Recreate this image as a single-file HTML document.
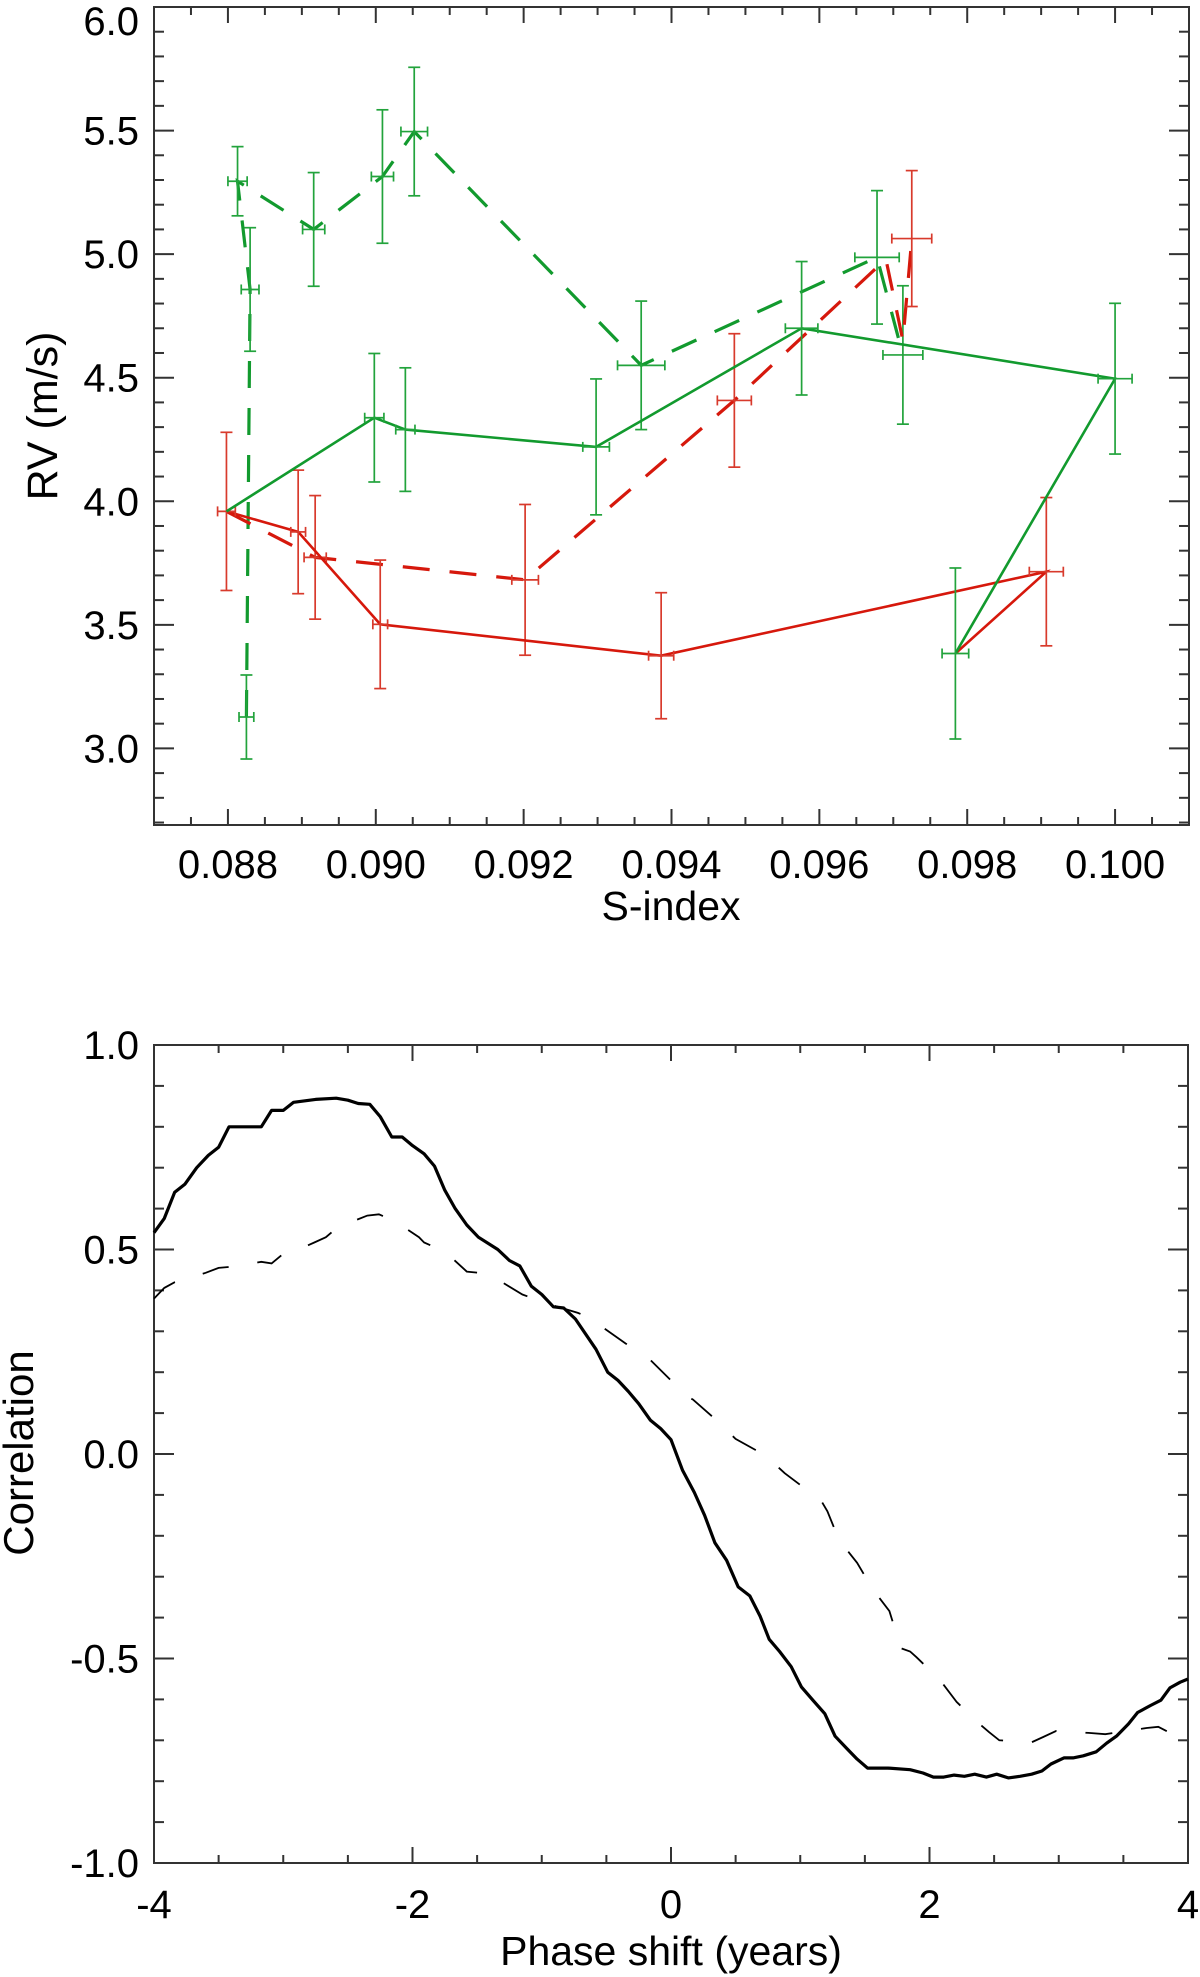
<!DOCTYPE html>
<html><head><meta charset="utf-8">
<style>
html,body{margin:0;padding:0;background:#fff;}
svg{display:block;font-family:"Liberation Sans",Arial,sans-serif;}
</style></head>
<body>
<svg id="fig" width="1200" height="1977" viewBox="0 0 1200 1977" xmlns="http://www.w3.org/2000/svg">
<g id="topchart"></g>
<g id="botchart"></g>
</svg>
<script>
// ---------- Top chart data ----------
const gsS   = [0.08798,0.08998,0.0904,0.09298,0.09576,0.1000,0.09784];
const gsRV  = [3.959,4.338,4.29,4.22,4.70,4.496,3.384];
const gsErr = [0,0.26,0.25,0.275,0.27,0.305,0.346];
const gsXErr= [0,0.00013,0.00013,0.00018,0.00022,0.00023,0.00018];

const gdS   = [0.08825,0.0883,0.08813,0.08916,0.09009,0.09052,0.09359,0.09678,0.09713];
const gdRV  = [3.127,4.857,5.295,5.10,5.314,5.496,4.55,4.987,4.592];
const gdErr = [0.17,0.25,0.14,0.23,0.27,0.26,0.26,0.27,0.28];
const gdXErr= [0.0001,0.00012,0.00013,0.00015,0.00015,0.00018,0.00032,0.0003,0.00027];

const rsS   = [0.08798,0.08895,0.09006,0.09386,0.09907,0.09784];
const rsRV  = [3.959,3.876,3.502,3.375,3.715,3.384];
const rsErr = [0.32,0.25,0.26,0.255,0.30,0];
const rsXErr= [0.00012,0.0001,0.0001,0.00017,0.00023,0];

const rdS   = [0.08798,0.08918,0.09202,0.09485,0.0969,0.09713,0.09725];
const rdRV  = [3.959,3.773,3.682,4.408,4.98,4.65,5.063];
const rdErr = [0,0.25,0.305,0.27,0,0,0.275];
const rdXErr= [0,0.00015,0.00018,0.00023,0,0,0.00027];

const topXTicks = [0.088,0.090,0.092,0.094,0.096,0.098,0.100];
const topXLabels = ["0.088","0.090","0.092","0.094","0.096","0.098","0.100"];
const topYTicks = [3.0,3.5,4.0,4.5,5.0,5.5,6.0];
const topYLabels = ["3.0","3.5","4.0","4.5","5.0","5.5","6.0"];

// ---------- Bottom chart data ----------
const solidPhase = [-4.0,-3.92,-3.84,-3.76,-3.67,-3.58,-3.5,-3.42,-3.17,-3.09,-3.0,-2.92,-2.75,-2.59,-2.5,-2.42,-2.33,-2.25,-2.16,-2.08,-2.0,-1.91,-1.83,-1.75,-1.67,-1.58,-1.49,-1.34,-1.25,-1.17,-1.08,-1.0,-0.91,-0.83,-0.74,-0.58,-0.49,-0.41,-0.33,-0.25,-0.16,-0.08,0.0,0.09,0.18,0.26,0.34,0.43,0.52,0.61,0.69,0.76,0.84,0.93,1.01,1.1,1.19,1.27,1.36,1.44,1.52,1.68,1.85,1.95,2.03,2.11,2.19,2.27,2.35,2.44,2.52,2.61,2.7,2.79,2.87,2.94,3.04,3.11,3.19,3.29,3.37,3.45,3.54,3.61,3.71,3.79,3.86,3.94,4.0];
const solidCorr  = [0.541,0.576,0.64,0.66,0.70,0.73,0.75,0.80,0.80,0.84,0.84,0.86,0.867,0.87,0.865,0.857,0.855,0.825,0.775,0.775,0.754,0.734,0.704,0.645,0.60,0.56,0.53,0.50,0.473,0.46,0.41,0.39,0.36,0.357,0.33,0.256,0.20,0.18,0.153,0.123,0.083,0.062,0.035,-0.04,-0.094,-0.15,-0.217,-0.26,-0.325,-0.347,-0.397,-0.453,-0.483,-0.52,-0.57,-0.603,-0.635,-0.69,-0.72,-0.746,-0.768,-0.768,-0.772,-0.78,-0.79,-0.79,-0.785,-0.788,-0.783,-0.79,-0.783,-0.792,-0.788,-0.783,-0.775,-0.758,-0.743,-0.743,-0.738,-0.728,-0.707,-0.689,-0.66,-0.632,-0.615,-0.602,-0.572,-0.558,-0.55];

const dashPhase = [-4.0,-3.92,-3.84,-3.6,-3.5,-3.4,-3.17,-3.09,-3.01,-2.97,-2.76,-2.67,-2.58,-2.35,-2.26,-2.14,-1.95,-1.91,-1.75,-1.58,-1.49,-1.36,-1.15,-0.95,-0.72,-0.58,-0.53,-0.35,-0.16,0.0,0.1,0.17,0.34,0.5,0.71,0.76,0.88,1.06,1.16,1.21,1.3,1.44,1.56,1.69,1.76,1.78,1.85,1.9,2.08,2.21,2.38,2.46,2.54,2.79,2.88,2.98,3.23,3.36,3.47,3.68,3.77,3.88,4.0];
const dashCorr  = [0.38,0.406,0.42,0.443,0.455,0.458,0.47,0.466,0.487,0.487,0.517,0.53,0.554,0.583,0.586,0.57,0.53,0.517,0.495,0.446,0.443,0.43,0.39,0.367,0.345,0.327,0.31,0.27,0.23,0.18,0.145,0.133,0.086,0.037,0.0,-0.012,-0.047,-0.09,-0.113,-0.14,-0.21,-0.266,-0.33,-0.384,-0.456,-0.475,-0.483,-0.497,-0.552,-0.606,-0.658,-0.68,-0.70,-0.705,-0.692,-0.677,-0.682,-0.685,-0.68,-0.67,-0.667,-0.685,-0.71];

const botXTicks = [-4,-2,0,2,4];
const botXLabels = ["-4","-2","0","2","4"];
const botYTicks = [-1.0,-0.5,0.0,0.5,1.0];
const botYLabels = ["-1.0","-0.5","0.0","0.5","1.0"];

// ---------- helpers ----------
const NS = "http://www.w3.org/2000/svg";
function mk(parent, tag, attrs){
  const e = document.createElementNS(NS, tag);
  for (const k in attrs) e.setAttribute(k, attrs[k]);
  parent.appendChild(e);
  return e;
}
const GREEN = "#129a2e", GREENE = "#22a33c", RED = "#d6180c", REDE = "#d83a2c";

// ---------- Top chart ----------
const T = {L:154, R:1189, T:7, B:825, x0:0.087, x1:0.101, y0:2.69, y1:6.0};
function tx(s){ return T.L + (s - T.x0)/(T.x1 - T.x0)*(T.R - T.L); }
function ty(v){ return T.B - (v - T.y0)/(T.y1 - T.y0)*(T.B - T.T); }
const topG = document.getElementById("topchart");

function axesTop(){
  const ax = mk(topG,"g",{stroke:"#333","stroke-width":2,fill:"none"});
  
  
  mk(ax,"rect",{x:T.L,y:T.T,width:T.R-T.L,height:T.B-T.T});
  for (let k=0; k<=28; k++){
    const s = 0.087 + k*0.0005;
    const major = (k % 4) === 2;
    const len = major?16:8, x = tx(s);
    mk(ax,"line",{x1:x,y1:T.B,x2:x,y2:T.B-len});
    mk(ax,"line",{x1:x,y1:T.T,x2:x,y2:T.T+len});
  }
  for (let k=0; k<=33; k++){
    const v = 2.7 + k*0.1;
    const major = (k % 5) === 3;
    const len = major?20:10, y = ty(v);
    mk(ax,"line",{x1:T.L,y1:y,x2:T.L+len,y2:y});
    mk(ax,"line",{x1:T.R,y1:y,x2:T.R-len,y2:y});
  }
  topXTicks.forEach((s,i)=>{
    const t = mk(topG,"text",{x:tx(s),y:878,"font-size":40,"text-anchor":"middle",fill:"#000"});
    
    
    t.textContent = topXLabels[i];
  });
  topYTicks.forEach((v,i)=>{
    const cy = Math.max(ty(v), 21);
    const t = mk(topG,"text",{x:139,y:cy+14,"font-size":40,"text-anchor":"end",fill:"#000"});
    
    
    t.textContent = topYLabels[i];
  });
  const xt = mk(topG,"text",{x:671,y:920,"font-size":41,"text-anchor":"middle",fill:"#000"});
  
  
  xt.textContent = "S-index";
  const yt = mk(topG,"text",{x:0,y:0,"font-size":43,"text-anchor":"middle",fill:"#000",transform:"translate(57,416) rotate(-90)"});
  
  
  yt.textContent = "RV (m/s)";
}
axesTop();

function series(S,RV,err,xerr,lineColor,errColor,dashed,name){
  const g = mk(topG,"g",{});
  
  
  const pts = S.map((s,i)=>tx(s).toFixed(1)+","+ty(RV[i]).toFixed(1)).join(" ");
  const pl = mk(g,"polyline",{points:pts,fill:"none",stroke:lineColor,"stroke-width":dashed?3.2:2.6,"stroke-linejoin":"miter"});
  if (dashed) pl.setAttribute("stroke-dasharray","27 20");
  
  
  S.forEach((s,i)=>{
    if (!err[i]) return;
    const x = tx(s), y = ty(RV[i]), y1 = ty(RV[i]+err[i]), y2 = ty(RV[i]-err[i]);
    const x1 = tx(s - xerr[i]), x2 = tx(s + xerr[i]);
    const eb = mk(g,"g",{stroke:errColor,"stroke-width":1.7,fill:"none"});
    
    
    mk(eb,"line",{x1:x,y1:y1,x2:x,y2:y2});
    mk(eb,"line",{x1:x-6,y1:y1,x2:x+6,y2:y1});
    mk(eb,"line",{x1:x-6,y1:y2,x2:x+6,y2:y2});
    mk(eb,"line",{x1:x1,y1:y,x2:x2,y2:y});
    mk(eb,"line",{x1:x1,y1:y-5,x2:x1,y2:y+5});
    mk(eb,"line",{x1:x2,y1:y-5,x2:x2,y2:y+5});
  });
}
series(gdS,gdRV,gdErr,gdXErr,GREEN,GREENE,true,"green-dashed-series");
series(rdS,rdRV,rdErr,rdXErr,RED,REDE,true,"red-dashed-series");
series(rsS,rsRV,rsErr,rsXErr,RED,REDE,false,"red-solid-series");
series(gsS,gsRV,gsErr,gsXErr,GREEN,GREENE,false,"green-solid-series");

// ---------- Bottom chart ----------
const Bx = {L:154, R:1188, T:1045, B:1863, x0:-4, x1:4, y0:-1, y1:1};
function bx(p){ return Bx.L + (p - Bx.x0)/(Bx.x1 - Bx.x0)*(Bx.R - Bx.L); }
function by(v){ return Bx.B - (v - Bx.y0)/(Bx.y1 - Bx.y0)*(Bx.B - Bx.T); }
const botG = document.getElementById("botchart");

function axesBot(){
  const ax = mk(botG,"g",{stroke:"#333","stroke-width":2,fill:"none"});
  
  
  mk(ax,"rect",{x:Bx.L,y:Bx.T,width:Bx.R-Bx.L,height:Bx.B-Bx.T});
  for (let k=0; k<=16; k++){
    const p = -4 + k*0.5;
    const major = (k % 4) === 0;
    const len = major?16:8, x = bx(p);
    mk(ax,"line",{x1:x,y1:Bx.B,x2:x,y2:Bx.B-len});
    mk(ax,"line",{x1:x,y1:Bx.T,x2:x,y2:Bx.T+len});
  }
  for (let k=0; k<=20; k++){
    const v = -1 + k*0.1;
    const major = (k % 5) === 0;
    const len = major?20:10, y = by(v);
    mk(ax,"line",{x1:Bx.L,y1:y,x2:Bx.L+len,y2:y});
    mk(ax,"line",{x1:Bx.R,y1:y,x2:Bx.R-len,y2:y});
  }
  botXTicks.forEach((p,i)=>{
    const t = mk(botG,"text",{x:bx(p),y:1918,"font-size":40,"text-anchor":"middle",fill:"#000"});
    
    
    t.textContent = botXLabels[i];
  });
  botYTicks.forEach((v,i)=>{
    const t = mk(botG,"text",{x:139,y:by(v)+14,"font-size":40,"text-anchor":"end",fill:"#000"});
    
    
    t.textContent = botYLabels[i];
  });
  const xt = mk(botG,"text",{x:671,y:1965,"font-size":41,"text-anchor":"middle",fill:"#000"});
  
  
  xt.textContent = "Phase shift (years)";
  const yt = mk(botG,"text",{x:0,y:0,"font-size":42,"text-anchor":"middle",fill:"#000",transform:"translate(33,1453) rotate(-90)"});
  
  
  yt.textContent = "Correlation";
}
axesBot();

const sl = mk(botG,"polyline",{points:solidPhase.map((p,i)=>bx(p).toFixed(1)+","+by(solidCorr[i]).toFixed(1)).join(" "),fill:"none",stroke:"#000","stroke-width":3.2,"stroke-linejoin":"round"});


const dl = mk(botG,"polyline",{points:dashPhase.map((p,i)=>bx(p).toFixed(1)+","+by(dashCorr[i]).toFixed(1)).join(" "),fill:"none",stroke:"#000","stroke-width":1.8,"stroke-dasharray":"27 29"});


</script>
</body></html>
